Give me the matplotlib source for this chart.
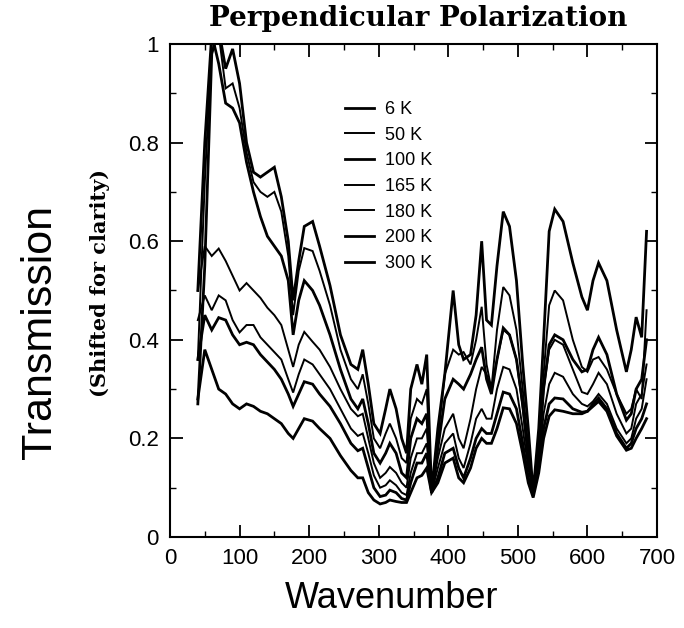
import matplotlib
matplotlib.use("Agg")
import matplotlib.pyplot as plt
from matplotlib.ticker import MultipleLocator

wavenumber = [40, 50, 60, 70, 80, 90, 100, 110, 120, 130, 140, 150, 160, 170, 177, 185, 193, 205, 215, 230,
              245, 260, 270, 277, 285, 293, 302, 310, 316, 325, 333, 340, 346, 355, 362, 369, 376, 385, 395, 407,
              415, 422, 432, 440, 448, 455, 462, 470, 479, 488, 498, 507, 515, 522, 530, 537, 545, 553, 565, 579,
              592, 600, 608, 616, 628, 642, 656, 663, 670, 678, 685]

t_6K = [.27, .55, .98, 1.03, .95, .99, .92, .80, .74, .73, .74, .75, .69, .60, .48, .56, .63, .64, .59, .51,
        .41, .35, .34, .38, .31, .23, .21, .26, .30, .26, .20, .17, .30, .35, .31, .37, .09, .22, .33, .50,
        .39, .36, .37, .45, .60, .44, .43, .55, .66, .63, .52, .35, .22, .09, .22, .40, .62, .665, .64, .556,
        .487, .46, .52, .556, .52, .42, .335, .38, .446, .405, .62]
t_50K = [.36, .72, 1.0, 1.02, .91, .92, .87, .78, .72, .70, .69, .70, .66, .57, .45, .54, .586, .58, .54, .47,
         .38, .32, .30, .33, .27, .20, .18, .21, .23, .20, .16, .15, .24, .28, .27, .30, .09, .20, .33, .38,
         .37, .375, .35, .40, .467, .35, .30, .42, .507, .49, .42, .30, .18, .09, .18, .33, .47, .50, .48, .40,
         .345, .335, .36, .365, .34, .29, .25, .26, .30, .28, .46]
t_100K = [.50, .80, 1.02, .96, .88, .87, .84, .76, .70, .65, .61, .59, .57, .52, .41, .48, .52, .50, .47, .41,
          .34, .28, .26, .28, .23, .17, .15, .17, .19, .17, .13, .12, .20, .24, .23, .25, .09, .18, .28, .32,
          .31, .30, .33, .36, .385, .32, .29, .36, .424, .41, .36, .27, .16, .09, .17, .30, .39, .41, .40, .36,
          .335, .34, .38, .405, .37, .29, .237, .25, .30, .32, .40]
t_165K = [.50, .59, .57, .585, .56, .53, .50, .515, .50, .485, .465, .45, .43, .38, .345, .39, .416, .396, .38, .345,
          .30, .26, .245, .25, .20, .15, .12, .13, .142, .13, .11, .10, .16, .20, .20, .22, .09, .16, .22, .25,
          .20, .18, .24, .30, .345, .33, .30, .36, .42, .41, .36, .26, .16, .09, .17, .30, .38, .40, .39, .34,
          .294, .29, .31, .333, .31, .25, .21, .22, .27, .29, .35]
t_180K = [.44, .49, .46, .49, .48, .44, .415, .43, .43, .405, .39, .375, .36, .32, .293, .33, .36, .35, .33, .30,
          .26, .22, .205, .21, .17, .125, .10, .105, .115, .105, .09, .085, .13, .17, .17, .19, .09, .14, .19, .21,
          .16, .14, .19, .24, .26, .24, .24, .30, .345, .34, .30, .22, .14, .09, .15, .25, .31, .333, .325, .29,
          .27, .265, .275, .29, .27, .22, .19, .20, .24, .26, .32]
t_200K = [.36, .45, .42, .445, .44, .41, .39, .395, .39, .37, .355, .34, .32, .29, .265, .29, .315, .31, .29, .265,
          .23, .19, .175, .18, .14, .10, .082, .085, .095, .09, .078, .075, .11, .15, .15, .17, .09, .12, .17, .18,
          .14, .12, .16, .20, .22, .21, .21, .25, .294, .29, .26, .19, .12, .09, .14, .22, .27, .282, .28, .26,
          .253, .255, .27, .282, .26, .21, .18, .19, .22, .24, .27]
t_300K = [.28, .38, .34, .30, .29, .27, .26, .27, .265, .255, .25, .24, .23, .21, .20, .22, .24, .235, .22, .20,
          .165, .135, .12, .12, .09, .075, .067, .07, .075, .072, .07, .07, .09, .12, .125, .14, .09, .11, .15, .16,
          .12, .11, .14, .18, .20, .19, .19, .22, .262, .26, .23, .17, .11, .08, .13, .20, .245, .258, .255, .25,
          .25, .255, .265, .275, .255, .205, .176, .18, .20, .22, .24]

series_labels = ["6 K", "50 K", "100 K", "165 K", "180 K", "200 K", "300 K"]
series = [t_6K, t_50K, t_100K, t_165K, t_180K, t_200K, t_300K]
widths = [2.0, 1.4, 2.0, 1.4, 1.4, 2.0, 2.0]

x_ticks = [0, 100, 200, 300, 400, 500, 600, 700]
y_ticks = [0, 0.2, 0.4, 0.6, 0.8, 1.0]
y_ticklabels = ["0", "0.2", "0.4", "0.6", "0.8", "1"]

W, H = 684, 628
fig = plt.figure(figsize=(W / 100, H / 100), dpi=100)
L, R, T, B = 170, 657, 44, 537
ax = fig.add_axes([L / W, 1 - B / H, (R - L) / W, (B - T) / H])

for vals, lab, lw in zip(series, series_labels, widths):
    ax.plot(wavenumber, vals, color="black", lw=lw, label=lab, solid_joinstyle="miter")

ax.set_xlim(0, 700)
ax.set_ylim(0, 1)
ax.set_xticks(x_ticks)
ax.set_yticks(y_ticks)
ax.set_yticklabels(y_ticklabels)
ax.xaxis.set_minor_locator(MultipleLocator(50))
ax.yaxis.set_minor_locator(MultipleLocator(0.1))
ax.tick_params(which="both", direction="in", top=True, right=True, color="black")
ax.tick_params(which="major", length=9, width=1.3, labelsize=16, pad=8)
ax.tick_params(which="minor", length=4, width=1.0)
for lab in ax.get_xticklabels() + ax.get_yticklabels():
    lab.set_fontfamily("Liberation Sans")
for s in ax.spines.values():
    s.set_linewidth(1.5)

leg = ax.legend(loc="upper left", bbox_to_anchor=((345 - L) / (R - L), (B - 101) / (B - T)),
                frameon=False, handlelength=1.6, handletextpad=0.6, labelspacing=0.48,
                borderpad=0, borderaxespad=0,
                prop={"family": "Liberation Sans", "size": 13})

fig.text(418 / W, 1 - 19 / H, "Perpendicular Polarization", ha="center", va="center",
         fontfamily="DejaVu Serif", fontweight="bold", fontsize=20)
fig.text(392 / W, 1 - 598 / H, "Wavenumber", ha="center", va="center",
         fontfamily="Liberation Sans", fontsize=26)
fig.text(40 / W, 1 - 332 / H, "Transmission", ha="center", va="center", rotation=90,
         fontfamily="Liberation Sans", fontsize=31)
fig.text(100 / W, 1 - 283 / H, "(Shifted for clarity)", ha="center", va="center", rotation=90,
         fontfamily="DejaVu Serif", fontweight="bold", fontsize=15)

fig.savefig("out.png", dpi=100)
